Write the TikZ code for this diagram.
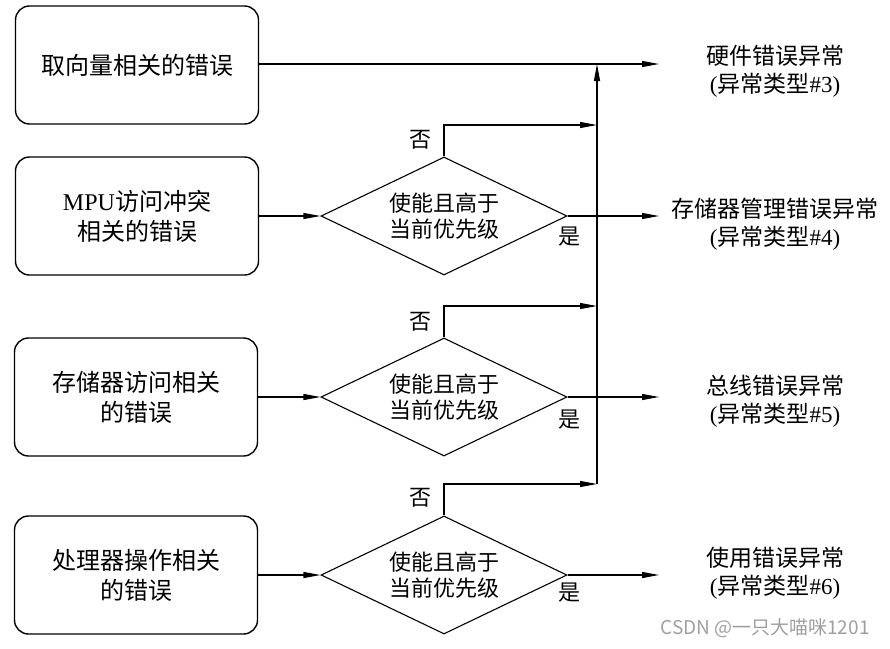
\documentclass[tikz,border=0pt]{standalone}
\usepackage{fontspec}
\setmainfont{Liberation Serif}
\newfontfamily\cjk{Noto Sans CJK SC}
\usetikzlibrary{arrows.meta,shapes.geometric}
\newcommand{\zh}[1]{{\cjk #1}}

\begin{document}
\begin{tikzpicture}[x=1pt,y=-1pt,>={Triangle[length=17pt,width=6pt]},line width=1.1pt]
  \tikzstyle{box}=[draw,rounded corners=14pt,line width=1.4pt,minimum width=243pt,minimum height=118pt,align=center,font=\fontsize{24}{30}\selectfont]
  \tikzstyle{cond}=[draw,diamond,aspect=2.1,inner sep=0pt,minimum width=246pt,minimum height=118pt,align=center,font=\fontsize{22}{26}\selectfont\cjk]
  \tikzstyle{result}=[align=center,font=\fontsize{23}{28}\selectfont]
  \tikzstyle{tag}=[font=\fontsize{22}{26}\selectfont\cjk]
  \useasboundingbox (0,0) rectangle (890,648);
  % sources
  \node[box] (vec) at (137,65) {\zh{取向量相关的错误}};
  \node[box] (mpu) at (137,216) {MPU\zh{访问冲突}\\\zh{相关的错误}};
  \node[box] (mem) at (136,397) {\zh{存储器访问相关}\\\zh{的错误}};
  \node[box] (proc) at (136,575) {\zh{处理器操作相关}\\\zh{的错误}};
  % checks
  \node[cond] (c1) at (444,216) {使能且高于\\当前优先级};
  \node[cond] (c2) at (444,397) {使能且高于\\当前优先级};
  \node[cond] (c3) at (444,575) {使能且高于\\当前优先级};
  % results
  \node[result] (hard) at (775,71) {\zh{硬件错误异常}\\(\zh{异常类型}\#3)};
  \node[result] (mman) at (775,224) {\zh{存储器管理错误异常}\\(\zh{异常类型}\#4)};
  \node[result] (bus) at (775,401) {\zh{总线错误异常}\\(\zh{异常类型}\#5)};
  \node[result] (usage) at (775,573) {\zh{使用错误异常}\\(\zh{异常类型}\#6)};
  \coordinate (top) at (597,64);
  \coordinate (hardin) at (659,64);
  \coordinate (mmanin) at (659,216);
  \coordinate (busin) at (659,397);
  \coordinate (usagein) at (659,575);
  \coordinate (n1) at (597,125);
  \coordinate (n2) at (597,306);
  \coordinate (n3) at (597,484);
  \draw[->] (vec.east |- top) -- (hardin);
  \draw[->] (mpu) -- (c1);
  \draw[->] (mem) -- (c2);
  \draw[->] (proc) -- (c3);
  \draw[->] (c1) -- (mmanin);
  \draw[->] (c2) -- (busin);
  \draw[->] (c3) -- (usagein);
  \draw[->] (c1.north) |- (n1);
  \draw[->] (c2.north) |- (n2);
  \draw[->] (c3.north) |- (n3);
  \draw[->] (n3) -- (top);
  \node[tag] at (420,140) {否};
  \node[tag] at (420,322) {否};
  \node[tag] at (420,498) {否};
  \node[tag] at (569,237) {是};
  \node[tag] at (569,420) {是};
  \node[tag] at (569,593) {是};
  \node[font=\fontsize{19}{22}\selectfont\cjk,text=gray!75] (mark) at (765,628) {CSDN @一只大喵咪1201};
\end{tikzpicture}
\end{document}
